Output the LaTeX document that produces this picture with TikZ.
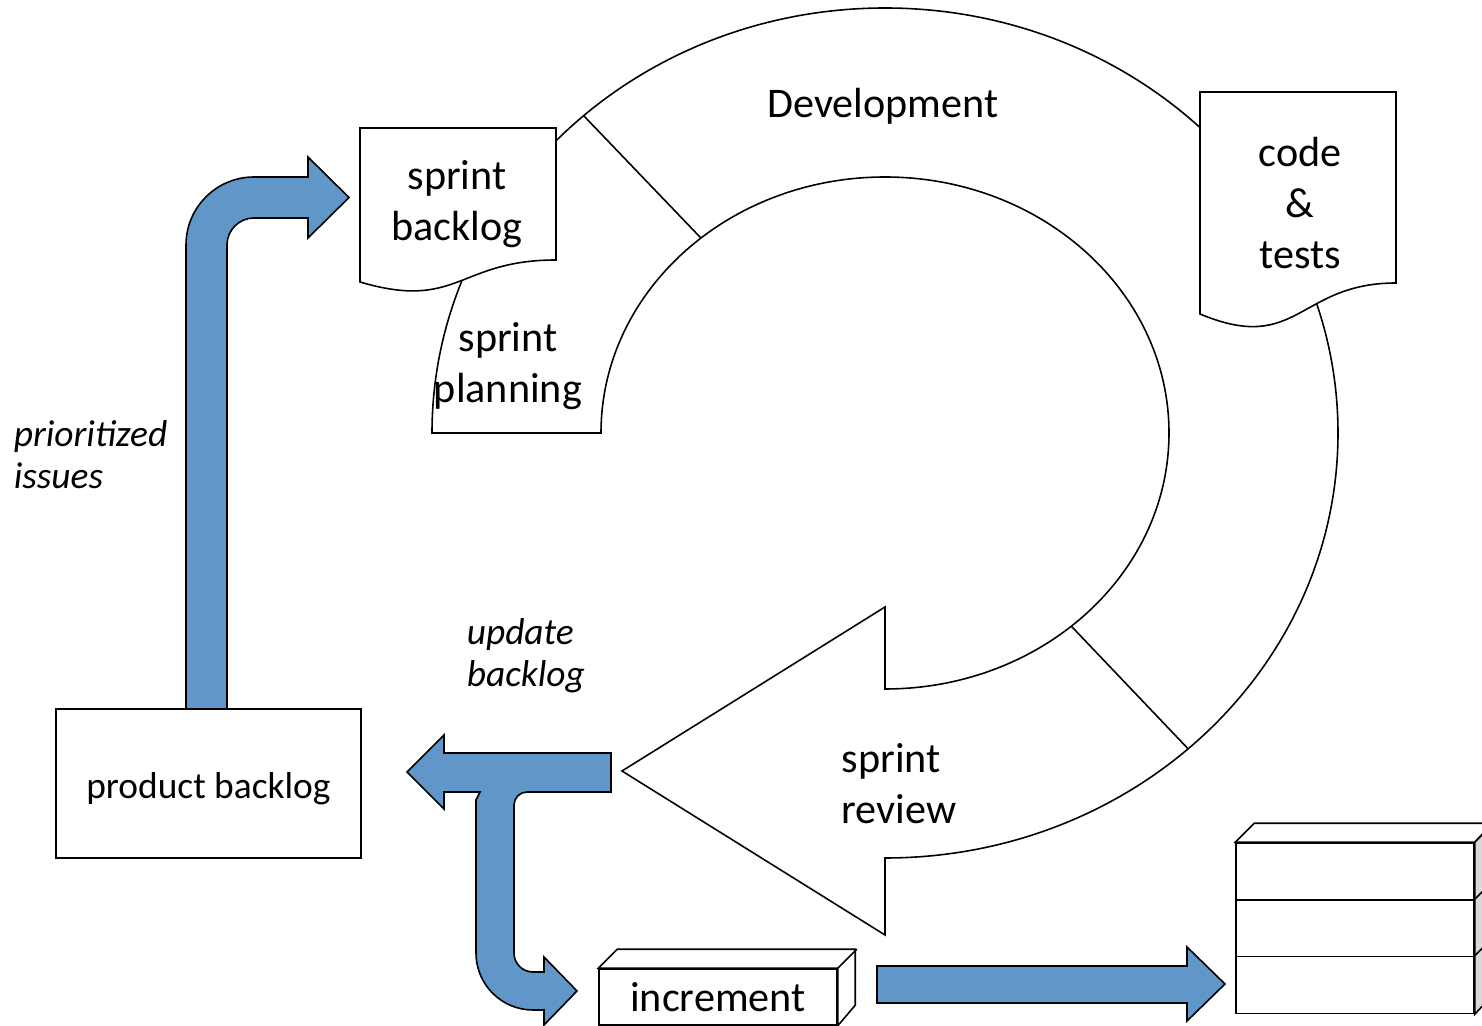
\documentclass[tikz,border=0pt]{standalone}
\usepackage{fontspec}
\setmainfont{Carlito}
\usetikzlibrary{calc}
\definecolor{flowblue}{RGB}{97,150,200}
\definecolor{sidegray}{RGB}{217,217,217}
\tikzset{
  lbl/.style={font=\fontsize{24}{29}\selectfont, align=center, inner sep=0pt},
  note/.style={font=\fontsize{21.3}{24}\selectfont\itshape, align=left, inner sep=0pt, anchor=west},
  box/.style={draw, fill=white},
  flow/.style={draw, fill=flowblue, line join=miter}
}
\begin{document}
\begin{tikzpicture}[x=0.02cm, y=-0.02cm, line width=0.9pt]
  \useasboundingbox (0,0) rectangle (1482,1026);
  \coordinate (c) at (885,433);
  % the sprint cycle
  \draw[fill=white] (601,433) -- (432,433)
    arc[start angle=180, end angle=450, x radius=453, y radius=425]
    -- (885,935) -- (622,771) -- (885,607) -- (885,689)
    arc[start angle=90, end angle=-180, x radius=284, y radius=256] -- cycle;
  \coordinate (d1) at ($(c)+(228.3:453 and 425)$);
  \coordinate (d2) at ($(c)+(229.6:284 and 256)$);
  \coordinate (d3) at ($(c)+(48:453 and 425)$);
  \coordinate (d4) at ($(c)+(49:284 and 256)$);
  \draw (d1) -- (d2);
  \draw (d3) -- (d4);
  \node[lbl] (dev) at (883,106) {Development};
  \node[lbl] (plan) at (508,366) {sprint\\planning};
  \node[lbl, align=left, anchor=west] (review) at (841,784) {sprint\\review};
  % documents
  \draw[box] (360,128) -- (556,128) -- (556,260)
    .. controls (458,260) and (458,311) .. (360,282) -- cycle;
  \node[lbl] (sb) at (457,204) {sprint\\backlog};
  \draw[box] (1200,92) -- (1396,92) -- (1396,283)
    .. controls (1298,283) and (1298,355) .. (1200,314) -- cycle;
  \node[lbl] (ct) at (1300,203) {code\\\&\\tests};
  % backlog, increment, product
  \node[box, lbl, font=\fontsize{21.3}{25}\selectfont, minimum width=6.1cm, minimum height=2.98cm] (pb) at (208.5,783.5) {\raisebox{-3pt}[\height][\depth]{product backlog}};
  \node[box, lbl, minimum width=4.76cm, minimum height=1.12cm] (inc) at (718,997) {increment};
  \draw[box] (inc.north west) -- ++(19,-19) -- ++(238,0) -- ++(0,56) -- (inc.south east) -- (inc.north east) -- cycle;
  \draw (inc.north east) -- ++(19,-19);
  \node[box, minimum width=4.76cm, minimum height=1.14cm] (st1) at (1355,871.5) {};
  \node[box, minimum width=4.76cm, minimum height=1.14cm] (st2) at (1355,928.5) {};
  \node[box, minimum width=4.76cm, minimum height=1.14cm] (st3) at (1355,985) {};
  \draw[box] (st1.north west) -- ++(19,-19) -- ++(238,0) -- (st1.north east) -- cycle;
  \draw[box, fill=sidegray] (st1.north east) -- ++(19,-19) -- ++(0,57) -- (st1.south east) -- cycle;
  \draw[box, fill=sidegray] (st2.north east) -- ++(19,-19) -- ++(0,57) -- (st2.south east) -- cycle;
  \draw[box, fill=sidegray] (st3.north east) -- ++(19,-19) -- ++(0,57) -- (st3.south east) -- cycle;
  % blue arrows
  \draw[flow] (186,709) -- (186,245) arc[start angle=180, end angle=270, radius=68]
    -- (308,177) -- (308,157) -- (349,197.5) -- (308,238) -- (308,218) -- (254,218)
    arc[start angle=270, end angle=180, radius=27] -- (227,709) -- cycle;
  \draw[flow] (611,753) -- (611,792) -- (527,792) arc[start angle=270, end angle=180, radius=13]
    -- (514,953) arc[start angle=180, end angle=90, radius=19]
    -- (544,972) -- (544,957) -- (577,991) -- (544,1025) -- (544,1010) -- (533,1010)
    arc[start angle=90, end angle=180, radius=57]
    -- (476,800) -- (480,792) -- (444,792) -- (444,809) -- (407,772) -- (444,735) -- (444,753) -- cycle;
  \draw[flow] (877,966) -- (1187,966) -- (1187,947) -- (1225,984) -- (1187,1021) -- (1187,1003) -- (877,1003) -- cycle;
  \node[note] (pri) at (13,455) {prioritized\\issues};
  \node[note] (upd) at (466,656) {update\\backlog};
\end{tikzpicture}
\end{document}
